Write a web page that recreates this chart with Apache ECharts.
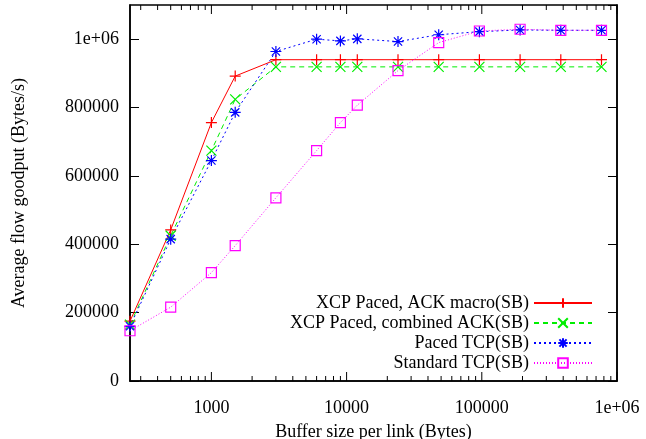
<!DOCTYPE html>
<html>
<head>
<meta charset="utf-8">
<script src="https://cdn.jsdelivr.net/npm/echarts@6/dist/echarts.min.js"></script>
<style>
  html, body { margin: 0; padding: 0; background: #fff; }
  #main { width: 646px; height: 439px; }
</style>
</head>
<body>
<div id="main"></div>
<script>
// buffer sizes (bytes)
var bufferSizes = [250, 500, 1000, 1500, 3000, 6000, 9000, 12000, 24000, 48000, 96000, 192000, 384000, 768000];
var seriesNames = ['XCP Paced, ACK macro(SB)', 'XCP Paced, combined ACK(SB)', 'Paced TCP(SB)', 'Standard TCP(SB)'];
// goodput values
var xcpMacro = [175000, 442000, 756000, 892000, 940000, 940000, 940000, 940000, 940000, 940000, 940000, 940000, 940000, 940000];
var xcpCombined = [165000, 425000, 674000, 824000, 919000, 919000, 919000, 919000, 919000, 919000, 919000, 919000, 919000, 919000];
var pacedTcp = [160000, 415000, 645000, 786000, 964000, 1000000, 995000, 1001000, 993000, 1013000, 1022000, 1027000, 1026000, 1026000];
var standardTcp = [147000, 216000, 317000, 396000, 536000, 674000, 756000, 807000, 908000, 990000, 1024000, 1029000, 1026000, 1026000];
var yTicks = [0, 200000, 400000, 600000, 800000, 1000000];

var font = 'Liberation Serif';

function pairs(ys) {
    return bufferSizes.map(function (x, i) { return [x, ys[i]]; });
}

// log axis tick marks, gnuplot style (major at decades, minor 2..9)
var xTickMarks = [];
for (var e = 2; e <= 6; e++) {
    for (var m = 1; m <= 9; m++) {
        var v = m * Math.pow(10, e);
        if (v < 250 || v > 1000000) continue;
        xTickMarks.push([v, m === 1 ? 9 : 5]);
    }
}

var symPlus = 'path://M0,-1L0,1M-1,0L1,0';
var symCross = 'path://M-1,-1L1,1M-1,1L1,-1';
var symStar = 'path://M0,-1L0,1M-1,0L1,0M-0.75,-0.75L0.75,0.75M-0.75,0.75L0.75,-0.75';
var symSquare = 'path://M-1,-1L1,-1L1,1L-1,1Z';

function lineSeries(name, ys, color, dash, symbol, size) {
    return {
        name: name,
        type: 'line',
        data: pairs(ys),
        symbol: symbol,
        symbolSize: size,
        showAllSymbol: true,
        color: color,
        lineStyle: { color: color, width: 1, type: dash },
        itemStyle: { color: 'rgba(0,0,0,0)', borderColor: color, borderWidth: 1.2 },
        emphasis: { disabled: true },
        z: 3
    };
}

var myChart = echarts.init(document.getElementById('main'));
var option = {
    backgroundColor: '#fff',
    animation: false,
    textStyle: { fontFamily: font },
    grid: {
        left: 130, right: 29, top: 5, bottom: 58,
        show: true, borderColor: '#000', borderWidth: 1.5,
        outerBoundsMode: 'none'
    },
    legend: {
        orient: 'vertical',
        align: 'right',
        right: 53,
        top: 294,
        padding: 0,
        itemWidth: 58,
        itemHeight: 12,
        itemGap: 2,
        data: seriesNames,
        textStyle: { fontFamily: font, fontSize: 18, color: '#000', lineHeight: 18 },
        selectedMode: false
    },
    xAxis: {
        type: 'log',
        logBase: 10,
        min: 250,
        max: 1000000,
        name: 'Buffer size per link (Bytes)',
        nameLocation: 'middle',
        nameGap: 42,
        nameTextStyle: { fontFamily: font, fontSize: 18, color: '#000' },
        axisLine: { lineStyle: { color: '#000', width: 1.5 } },
        axisTick: { show: false },
        splitLine: { show: false },
        axisLabel: {
            fontFamily: font, fontSize: 18, color: '#000', margin: 18,
            showMinLabel: false,
            formatter: function (v) {
                if (Math.abs(v - 1000000) < 1) return '1e+06';
                var l = Math.log10(v);
                if (Math.abs(l - Math.round(l)) > 1e-6) return '';
                return String(Math.round(v));
            }
        }
    },
    yAxis: [{
        type: 'value',
        min: 0,
        max: 1100000,
        interval: 200000,
        name: 'Average flow goodput (Bytes/s)',
        nameLocation: 'middle',
        nameRotate: 90,
        nameGap: 102,
        nameTextStyle: { fontFamily: font, fontSize: 18, color: '#000' },
        axisLine: { show: true, lineStyle: { color: '#000', width: 1.5 } },
        axisTick: { show: true, inside: true, length: 9, lineStyle: { color: '#000' } },
        splitLine: { show: false },
        axisLabel: {
            fontFamily: font, fontSize: 18, color: '#000', margin: 11,
            showMaxLabel: false,
            formatter: function (v) {
                if (yTicks.indexOf(v) < 0) return '';
                return v === 1000000 ? '1e+06' : String(v);
            }
        }
    }, {
        type: 'value',
        position: 'right',
        min: 0,
        max: 1100000,
        interval: 200000,
        axisLine: { show: true, lineStyle: { color: '#000', width: 1.5 } },
        axisTick: { show: true, inside: true, length: 9, lineStyle: { color: '#000' } },
        splitLine: { show: false },
        axisLabel: { show: false }
    }],
    series: [
        lineSeries(seriesNames[0], xcpMacro, '#ff0000', 'solid', symPlus, 11),
        lineSeries(seriesNames[1], xcpCombined, '#00ee00', [5, 4], symCross, 10),
        lineSeries(seriesNames[2], pacedTcp, '#0000ff', [2, 3], symStar, 11),
        lineSeries(seriesNames[3], standardTcp, '#ff00ff', [1, 2], symSquare, 10),
        {
            // x ticks on bottom and top edges
            type: 'custom',
            silent: true,
            data: xTickMarks,
            z: 5,
            renderItem: function (params, api) {
                var x = api.coord([api.value(0), 0])[0];
                var len = api.value(1);
                var cs = params.coordSys;
                var yb = cs.y + cs.height, yt = cs.y;
                var st = { stroke: '#000', lineWidth: 1 };
                return {
                    type: 'group',
                    children: [
                        { type: 'line', shape: { x1: x, y1: yb, x2: x, y2: yb - len }, style: st },
                        { type: 'line', shape: { x1: x, y1: yt, x2: x, y2: yt + len }, style: st }
                    ]
                };
            }
        }
    ]
};
myChart.setOption(option);
</script>
</body>
</html>
